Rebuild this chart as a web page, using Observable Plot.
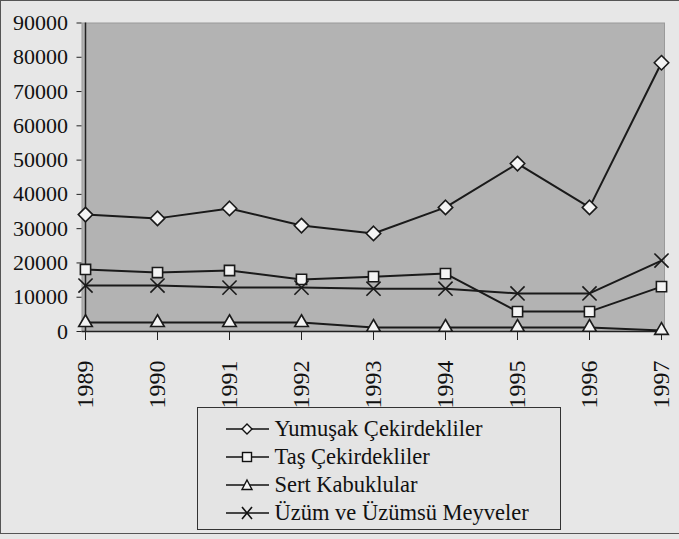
<!DOCTYPE html>
<html><head><meta charset="utf-8">
<script src="https://cdn.jsdelivr.net/npm/d3@7"></script>
<script src="https://cdn.jsdelivr.net/npm/@observablehq/plot@0.6"></script>
<style>
html,body{margin:0;padding:0;background:#e7e7e7;}
#wrap{position:relative;width:679px;height:534px;box-sizing:border-box;border-top:1.5px solid #555;border-left:1.5px solid #555;border-bottom:1.5px solid #555;overflow:hidden;font-family:"Liberation Serif","DejaVu Serif",serif;}
#chart{position:absolute;left:-1.5px;top:-1.5px;}
#chart svg{overflow:visible;}
#legend{position:absolute;left:195.5px;top:405.5px;width:364px;height:123px;box-sizing:border-box;border:1.5px solid #333;background:#e4e4e4;padding:7px 0 0 28px;}
.item{display:flex;align-items:center;height:28.1px;font-size:22.5px;color:#111;font-family:"Liberation Serif","DejaVu Serif",serif;}
.item svg{margin-right:6px;}
</style></head>
<body><div id="wrap"><div id="chart"></div><div id="legend"></div></div>
<script>
const years = ["1989","1990","1991","1992","1993","1994","1995","1996","1997"];
const seriesNames = ["Yumuşak Çekirdekliler","Taş Çekirdekliler","Sert Kabuklular","Üzüm ve Üzümsü Meyveler"];
const yumusak = [34100,33000,35900,30900,28600,36200,49000,36200,78400];
const tas = [18100,17200,17800,15200,16000,16900,5800,5800,13100];
const sert = [2600,2600,2600,2600,1200,1200,1200,1200,300];
const uzum = [13400,13400,12800,12800,12500,12500,11100,11100,20700];
const yTicks = [0,10000,20000,30000,40000,50000,60000,70000,80000,90000];
const symbols = ["diamond2","square2","triangle2","times"];

const all = [yumusak,tas,sert,uzum];
const rows = [];
all.forEach((vals,si)=>vals.forEach((v,i)=>rows.push({year:years[i],value:v,series:seriesNames[si],sym:symbols[si]})));

const chart = Plot.plot({
  width:679, height:415,
  marginLeft:81.5, marginRight:15, marginTop:22.5, marginBottom:84,
  style:{fontFamily:"Liberation Serif, DejaVu Serif, serif", background:"transparent", color:"#111"},
  x:{type:"point", domain:years, padding:0, label:null},
  y:{domain:[0,90000], label:null},
  symbol:{type:"identity"},
  marks:[
    Plot.frame({fill:"#b3b3b3", stroke:"#9a9a9a"}),
    Plot.ruleX([years[0]],{y1:0,y2:90000,stroke:"#222",strokeWidth:1.5}),
    Plot.ruleY([0],{stroke:"#222",strokeWidth:1.5}),
    Plot.axisY({ticks:yTicks, tickSize:5, tickPadding:9, fontSize:22, tickFormat:d=>String(d), label:null, stroke:"#222"}),
    Plot.axisX({tickSize:9, tickRotate:-90, tickPadding:20, fontSize:24, label:null, stroke:"#222"}),
    Plot.lineY(rows,{x:"year",y:"value",z:"series",stroke:"#1a1a1a",strokeWidth:2}),
    Plot.dot(rows,{x:"year",y:"value",symbol:"sym",r:6.5,fill:d=>d.sym==="times"?"none":"#f4f4f4",stroke:"#1a1a1a",strokeWidth:1.6})
  ]
});
document.getElementById("chart").appendChild(chart);

const leg = document.getElementById("legend");
const symSvg = {
  diamond2:'<path d="M21,16 L26,21 L21,26 L16,21 Z" fill="#f4f4f4" stroke="#111" stroke-width="1.4"/>',
  square2:'<rect x="16.5" y="16.5" width="9" height="9" fill="#f4f4f4" stroke="#111" stroke-width="1.4"/>',
  triangle2:'<path d="M21,16 L26,25.5 L16,25.5 Z" fill="#f4f4f4" stroke="#111" stroke-width="1.4"/>',
  times:'<path d="M16,15 L26,27 M26,15 L16,27" stroke="#111" stroke-width="1.6"/>'
};
seriesNames.forEach((n,i)=>{
  const d=document.createElement("div");d.className="item";
  d.innerHTML='<svg width="43" height="42" style="margin-top:-8px;margin-bottom:-8px"><line x1="0" y1="21" x2="43" y2="21" stroke="#111" stroke-width="1.6"/>'+symSvg[symbols[i]]+'</svg><span>'+n+'</span>';
  leg.appendChild(d);
});
</script></body></html>
